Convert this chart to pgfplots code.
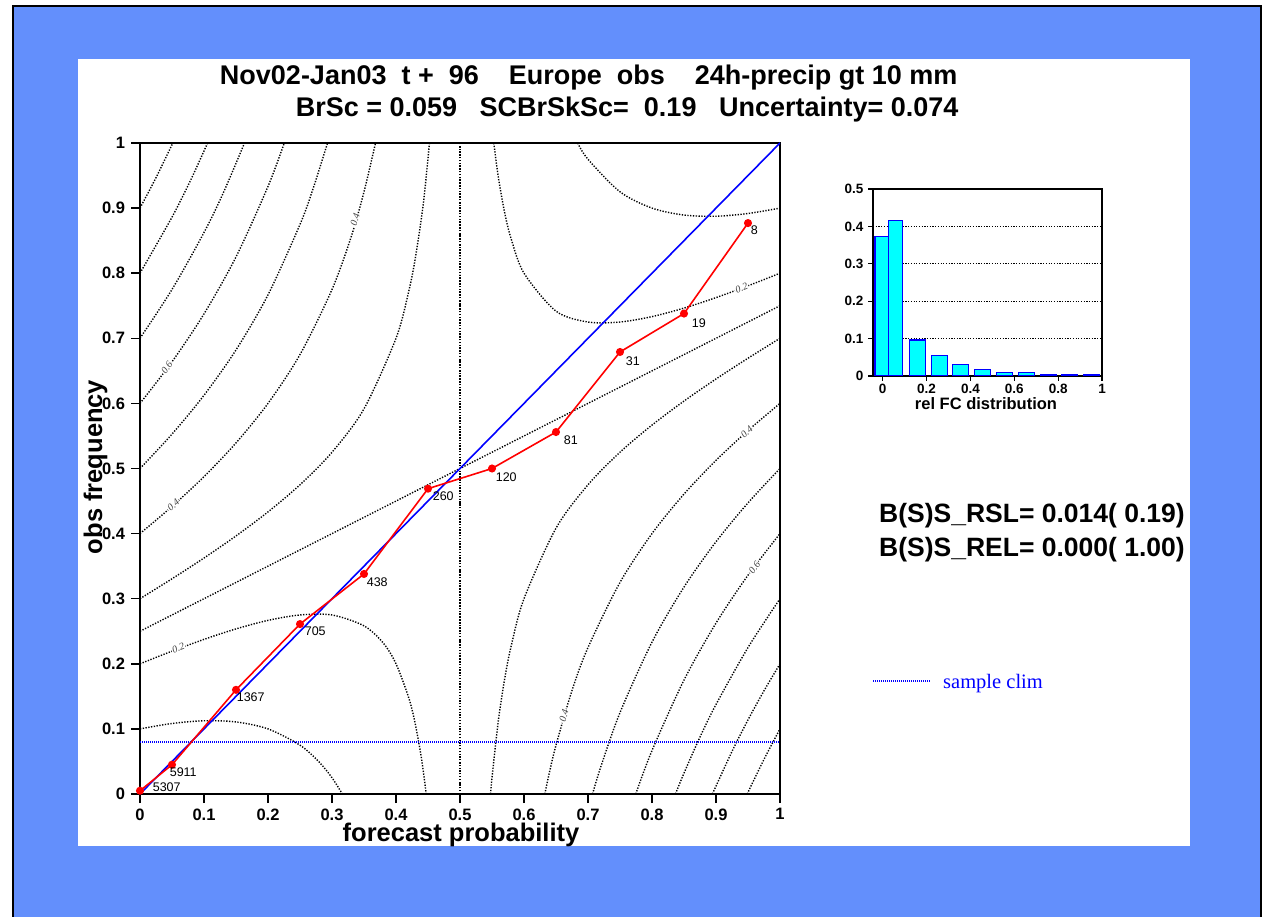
\documentclass[border=0pt]{standalone}
\usepackage{pgfplots}
\pgfplotsset{compat=1.18}
\usepackage{pgfplotstable}
\usepackage{fontspec}
\setmainfont{Liberation Sans}
\newfontfamily\timesfont{Liberation Serif}
\definecolor{bgblue}{RGB}{99,143,252}
\definecolor{cyanbar}{RGB}{0,255,255}
\definecolor{myblue}{RGB}{0,0,255}
\definecolor{myred}{RGB}{255,0,0}

\pgfplotstableread{
x y n dx dy
0 0.005 5307 12 9
0.05 0.045 5911 -3 -2
0.15 0.16 1367 0 -2
0.25 0.261 705 4 -2
0.35 0.338 438 2 -3
0.45 0.469 260 4 -2
0.55 0.500 120 3 -3
0.65 0.556 81 7 -3
0.75 0.679 31 5 -4
0.85 0.738 19 7 -4
0.95 0.877 8 2 -2
}\reldata

\pgfplotsset{
  cline/.style={black, line width=1.4pt, dash pattern=on 1.3pt off 1.5pt, smooth, tension=0.5, forget plot},
}
\tikzset{
  clab/.style={font=\timesfont\itshape\fontsize{10}{10}\selectfont, text=black!75, fill=white, inner sep=0.8pt},
}

\begin{document}
\begin{tikzpicture}[x=1pt,y=1pt]
\useasboundingbox (0,0) rectangle (1263,916);
\fill[white] (0,0) rectangle (1263,916);
\fill[bgblue] (13,-5) rectangle (1261,910);
\fill[white] (78,70) rectangle (1190,857);

\begin{axis}[
  at={(140pt,122pt)}, anchor=south west, scale only axis,
  width=640pt, height=651pt,
  xmin=0, xmax=1, ymin=0, ymax=1,
  axis line style={line width=2pt},
  tick style={black, line width=1.5pt}, tick align=outside, major tick length=9pt,
  tick pos=left,
  xtick={0,0.1,0.2,0.3,0.4,0.5,0.6,0.7,0.8,0.9,1},
  xticklabels={0,0.1,0.2,0.3,0.4,0.5,0.6,0.7,0.8,0.9,1},
  ytick={0,0.1,0.2,0.3,0.4,0.5,0.6,0.7,0.8,0.9,1},
  yticklabels={0,0.1,0.2,0.3,0.4,0.5,0.6,0.7,0.8,0.9,1},
  ticklabel style={font=\bfseries\fontsize{16.5}{16.5}\selectfont},
  xticklabel style={yshift=-2pt},
  yticklabel style={xshift=-2.5pt},
]
% upper-left contours
\addplot[cline] coordinates {(0,0.3) (0.05,0.3306) (0.1,0.3625) (0.15,0.3964) (0.2,0.4333) (0.25,0.475) (0.3,0.525) (0.35,0.5917) (0.4,0.7) (0.42,0.7725) (0.43,0.822) (0.44,0.8867) (0.445,0.927) (0.4523,1)};
\addplot[cline] coordinates {(0,0.4) (0.05,0.4417) (0.1,0.4875) (0.15,0.5393) (0.2,0.6) (0.25,0.675) (0.3,0.775) (0.33,0.856) (0.35,0.925) (0.368,1)};
\addplot[cline] coordinates {(0,0.5) (0.05,0.5528) (0.1,0.6125) (0.15,0.6821) (0.2,0.7667) (0.25,0.875) (0.27,0.9285) (0.293,1)};
\addplot[cline] coordinates {(0,0.6) (0.05,0.6639) (0.1,0.7375) (0.15,0.825) (0.2,0.9333) (0.2254,1)};
\addplot[cline] coordinates {(0,0.7) (0.05,0.775) (0.1,0.8625) (0.13,0.923) (0.1633,1)};
\addplot[cline] coordinates {(0,0.8) (0.05,0.8861) (0.08,0.9448) (0.1056,1)};
\addplot[cline] coordinates {(0,0.9) (0.025,0.9467) (0.0513,1)};
% lower-left contours
\addplot[cline] coordinates {(0,0.2) (0.05,0.2194) (0.1,0.2375) (0.15,0.2536) (0.2,0.2667) (0.25,0.275) (0.3,0.275) (0.35,0.2583) (0.38,0.232) (0.4,0.2) (0.42,0.1475) (0.43,0.108) (0.44,0.0533) (0.4472,0)};
\addplot[cline] coordinates {(0,0.1) (0.05,0.1083) (0.1,0.1125) (0.15,0.1107) (0.2,0.1) (0.25,0.075) (0.28,0.049) (0.3,0.025) (0.3162,0)};
% upper-right contours
\addplot[cline] coordinates {(0.5528,1) (0.56,0.9467) (0.57,0.892) (0.58,0.8525) (0.6,0.8) (0.65,0.7417) (0.7,0.725) (0.75,0.725) (0.8,0.7333) (0.85,0.7464) (0.9,0.7625) (0.95,0.7806) (1,0.8)};
\addplot[cline] coordinates {(0.6838,1) (0.7,0.975) (0.75,0.925) (0.8,0.9) (0.85,0.8893) (0.9,0.8875) (0.95,0.8917) (1,0.9)};
% lower-right contours
\addplot[cline] coordinates {(0.5477,0) (0.55,0.025) (0.56,0.1133) (0.57,0.178) (0.58,0.2275) (0.6,0.3) (0.65,0.4083) (0.7,0.475) (0.75,0.525) (0.8,0.5667) (0.85,0.6036) (0.9,0.6375) (0.95,0.6694) (1,0.7)};
\addplot[cline] coordinates {(0.6325,0) (0.64,0.0343) (0.65,0.075) (0.675,0.159) (0.7,0.225) (0.75,0.325) (0.8,0.4) (0.85,0.4607) (0.9,0.5125) (0.95,0.5583) (1,0.6)};
\addplot[cline] coordinates {(0.7071,0) (0.72,0.0418) (0.75,0.125) (0.8,0.2333) (0.85,0.3179) (0.9,0.3875) (0.95,0.4472) (1,0.5)};
\addplot[cline] coordinates {(0.7746,0) (0.8,0.0667) (0.85,0.175) (0.9,0.2625) (0.95,0.3361) (1,0.4)};
\addplot[cline] coordinates {(0.8367,0) (0.85,0.0321) (0.875,0.0875) (0.9,0.1375) (0.95,0.225) (1,0.3)};
\addplot[cline] coordinates {(0.8944,0) (0.925,0.0654) (0.95,0.1139) (0.975,0.1586) (1,0.2)};
\addplot[cline] coordinates {(0.9487,0) (0.975,0.0533) (1,0.1)};
% asymptotes
\addplot[cline] coordinates {(0.5,0) (0.5,1)};
\addplot[cline] coordinates {(0,0.25) (1,0.75)};
% contour labels
\node[clab, rotate=73] at (axis cs:0.336,0.882) {0.4};
\node[clab, rotate=42] at (axis cs:0.052,0.444) {0.4};
\node[clab, rotate=54] at (axis cs:0.042,0.655) {0.6};
\node[clab, rotate=21] at (axis cs:0.06,0.224) {0.2};
\node[clab, rotate=42] at (axis cs:0.948,0.556) {0.4};
\node[clab, rotate=54] at (axis cs:0.96,0.348) {0.6};
\node[clab, rotate=74] at (axis cs:0.6625,0.12) {0.4};
\node[clab, rotate=21] at (axis cs:0.94,0.777) {0.2};
% sample climate
\addplot[myblue, line width=1.3pt, dash pattern=on 1pt off 1pt, forget plot] coordinates {(0,0.08) (1,0.08)};
% diagonal
\addplot[myblue, line width=1.6pt, forget plot] coordinates {(0,0) (1,1)};
% reliability curve
\addplot[myred, line width=1.6pt, mark=*, mark size=3.2pt, mark options={fill=myred, draw=myred},
  nodes near coords, point meta=explicit symbolic,
  visualization depends on={\thisrow{dx}\as\dx},
  visualization depends on={\thisrow{dy}\as\dy},
  nodes near coords style={anchor=north west, text=black, inner sep=0pt,
    font=\fontsize{12.5}{12.5}\selectfont, xshift=\dx pt, yshift=\dy pt}]
  table[x=x, y=y, meta=n] {\reldata};
\end{axis}

% inset histogram
\begin{axis}[
  at={(873pt,540pt)}, anchor=south west, scale only axis,
  width=229pt, height=187pt,
  xmin=-0.044, xmax=1, ymin=0, ymax=0.5,
  xtick={0,0.2,0.4,0.6,0.8,1}, xticklabels={0,0.2,0.4,0.6,0.8,1},
  ytick={0,0.1,0.2,0.3,0.4,0.5}, yticklabels={0,0.1,0.2,0.3,0.4,0.5},
  ymajorgrids, grid style={black, line width=1.2pt, dash pattern=on 1.2pt off 1.5pt},
  tick pos=left, tick align=outside, major tick length=5pt,
  tick style={black, line width=1.2pt},
  axis line style={line width=1.6pt},
  ticklabel style={font=\bfseries\fontsize{13.5}{13.5}\selectfont},
  yticklabel style={xshift=-1pt},
]
\addplot[ybar, bar width=0.06, bar shift=0pt, fill=cyanbar, draw=myblue, line width=1.2pt] coordinates {(-0.005,0.372)};
\addplot[ybar, bar width=0.067, bar shift=0pt, fill=cyanbar, draw=myblue, line width=1.2pt] coordinates {(0.0585,0.416)};
\addplot[ybar, bar width=0.074, bar shift=0pt, fill=cyanbar, draw=myblue, line width=1.2pt] coordinates {
 (0.158,0.096) (0.258,0.054) (0.355,0.031) (0.455,0.017) (0.555,0.009) (0.655,0.009) (0.756,0.0045) (0.852,0.0045) (0.953,0.004)};
\end{axis}

% texts
\node[anchor=base east, font=\bfseries\fontsize{27}{27}\selectfont] at (961,831)
  {Nov02-Jan03\ \ t +\ \ 96\ \ \ \ Europe\ \ obs\ \ \ \ 24h-precip gt 10 mm};
\node[anchor=base east, font=\bfseries\fontsize{27}{27}\selectfont] at (962,799)
  {BrSc = 0.059\ \ \ SCBrSkSc=\ \ 0.19\ \ \ Uncertainty= 0.074};
\node[anchor=base, inner sep=0pt, font=\bfseries\fontsize{25.5}{25.5}\selectfont] at (461,75) {forecast probability};
\node[anchor=base, inner sep=0pt, rotate=90, font=\bfseries\fontsize{25.5}{25.5}\selectfont] at (102,449) {obs frequency};
\node[anchor=base, font=\bfseries\fontsize{16.5}{16.5}\selectfont] at (986,506) {rel FC distribution};
\node[anchor=base west, inner sep=0pt, font=\bfseries\fontsize{26.5}{26.5}\selectfont] at (879,393) {B(S)S\_RSL= 0.014( 0.19)};
\node[anchor=base west, inner sep=0pt, font=\bfseries\fontsize{26.5}{26.5}\selectfont] at (879,359) {B(S)S\_REL= 0.000( 1.00)};
\draw[myblue, line width=1.3pt, dash pattern=on 1pt off 1pt] (873,235) -- (930,235);
\node[anchor=base west, inner sep=0pt, text=myblue, font=\timesfont\fontsize{20.5}{20.5}\selectfont] at (943,228) {sample clim};
% right blue strip covering overflow
\fill[bgblue] (1190,60) rectangle (1261,870);
\draw[black, line width=2.5pt] (13,-10) -- (13,910) -- (1261,910) -- (1261,-10);
\end{tikzpicture}
\end{document}
